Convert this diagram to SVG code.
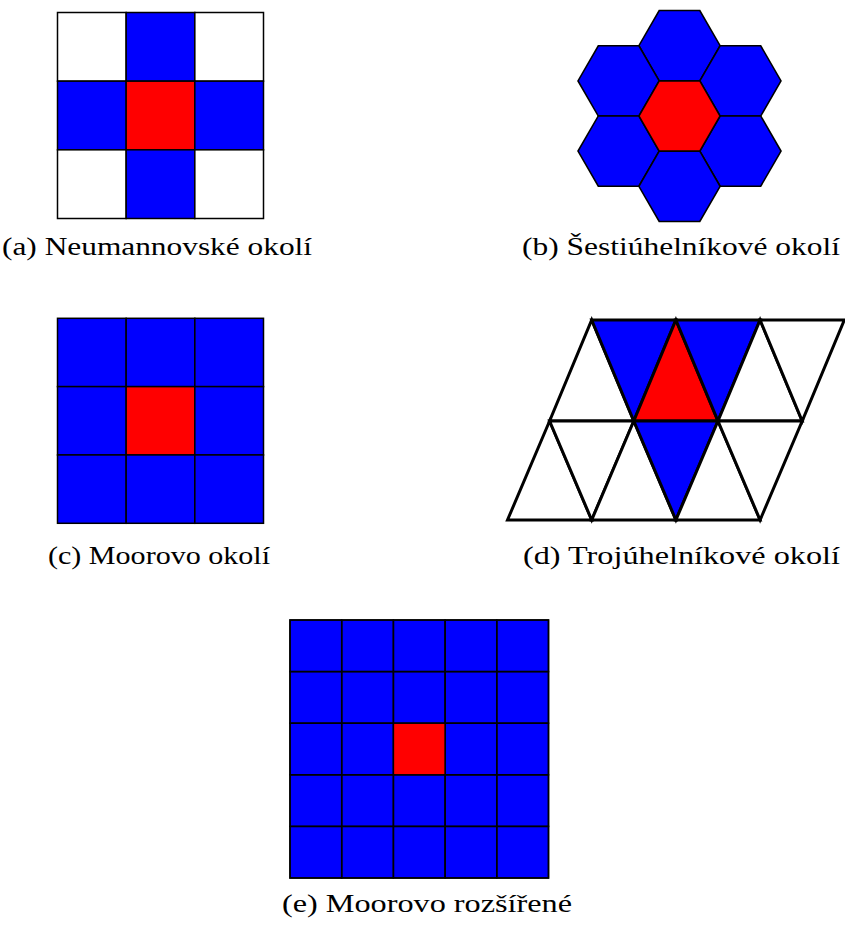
<svg xmlns="http://www.w3.org/2000/svg" width="845" height="927" viewBox="0 0 845 927">
<style>
.b{fill:#0000ff}.r{fill:#ff0000}.w{fill:#ffffff}
.g rect{stroke:#000;stroke-width:1.5}
.hx use{stroke:#000;stroke-width:1.6;stroke-linejoin:miter}
.tr polygon{stroke:#000;stroke-width:3;stroke-linejoin:miter}
.cap{font-family:"Liberation Serif","DejaVu Serif",serif;font-size:25px;fill:#000}
</style>
<defs>
<polygon id="hex" points="40.6,0 20.3,35.16 -20.3,35.16 -40.6,0 -20.3,-35.16 20.3,-35.16"/>
</defs>
<rect width="845" height="927" fill="#fff"/>

<g id="neumann" class="g">
<rect class="w" x="57.5" y="12.5" width="68.67" height="68.67"/>
<rect class="b" x="126.17" y="12.5" width="68.67" height="68.67"/>
<rect class="w" x="194.83" y="12.5" width="68.67" height="68.67"/>
<rect class="b" x="57.5" y="81.17" width="68.67" height="68.67"/>
<rect class="r" x="126.17" y="81.17" width="68.67" height="68.67"/>
<rect class="b" x="194.83" y="81.17" width="68.67" height="68.67"/>
<rect class="w" x="57.5" y="149.83" width="68.67" height="68.67"/>
<rect class="b" x="126.17" y="149.83" width="68.67" height="68.67"/>
<rect class="w" x="194.83" y="149.83" width="68.67" height="68.67"/>
</g>
<text id="cap-a" class="cap" x="2" y="255" textLength="310" lengthAdjust="spacingAndGlyphs">(a) Neumannovské okolí</text>

<g id="hexagon" class="hx">
<use href="#hex" class="b" x="679.5" y="45.7"/>
<use href="#hex" class="b" x="618.6" y="80.9"/>
<use href="#hex" class="b" x="740.4" y="80.9"/>
<use href="#hex" class="b" x="618.6" y="151.1"/>
<use href="#hex" class="b" x="740.4" y="151.1"/>
<use href="#hex" class="b" x="679.5" y="186.3"/>
<use href="#hex" class="r" x="679.5" y="116"/>
</g>
<text id="cap-b" class="cap" x="522" y="255" textLength="318" lengthAdjust="spacingAndGlyphs">(b) Šestiúhelníkové okolí</text>

<g id="moore" class="g">
<rect class="b" x="57.5" y="318.3" width="68.67" height="68.33"/>
<rect class="b" x="126.17" y="318.3" width="68.67" height="68.33"/>
<rect class="b" x="194.83" y="318.3" width="68.67" height="68.33"/>
<rect class="b" x="57.5" y="386.63" width="68.67" height="68.33"/>
<rect class="r" x="126.17" y="386.63" width="68.67" height="68.33"/>
<rect class="b" x="194.83" y="386.63" width="68.67" height="68.33"/>
<rect class="b" x="57.5" y="454.96" width="68.67" height="68.33"/>
<rect class="b" x="126.17" y="454.96" width="68.67" height="68.33"/>
<rect class="b" x="194.83" y="454.96" width="68.67" height="68.33"/>
</g>
<text id="cap-c" class="cap" x="48" y="564" textLength="222" lengthAdjust="spacingAndGlyphs">(c) Moorovo okolí</text>

<g id="triangle" class="tr">
<polygon class="w" points="549.6,421 633.8,421 591.7,320"/>
<polygon class="b" points="591.7,320 675.9,320 633.8,421"/>
<polygon class="r" points="633.8,421 718,421 675.9,320"/>
<polygon class="b" points="675.9,320 760.1,320 718,421"/>
<polygon class="w" points="718,421 802.2,421 760.1,320"/>
<polygon class="w" points="760.1,320 844.3,320 802.2,421"/>
<polygon class="w" points="507.5,520 591.7,520 549.6,421"/>
<polygon class="w" points="549.6,421 633.8,421 591.7,520"/>
<polygon class="w" points="591.7,520 675.9,520 633.8,421"/>
<polygon class="b" points="633.8,421 718,421 675.9,520"/>
<polygon class="w" points="675.9,520 760.1,520 718,421"/>
<polygon class="w" points="718,421 802.2,421 760.1,520"/>
</g>
<text id="cap-d" class="cap" x="523" y="564" textLength="317" lengthAdjust="spacingAndGlyphs">(d) Trojúhelníkové okolí</text>

<g id="moore-ext" class="g">
<rect class="b" x="290" y="620" width="258.5" height="258"/>
<g fill="none">
<rect x="290" y="620" width="51.7" height="51.6"/><rect x="341.7" y="620" width="51.7" height="51.6"/><rect x="393.4" y="620" width="51.7" height="51.6"/><rect x="445.1" y="620" width="51.7" height="51.6"/><rect x="496.8" y="620" width="51.7" height="51.6"/>
<rect x="290" y="671.6" width="51.7" height="51.6"/><rect x="341.7" y="671.6" width="51.7" height="51.6"/><rect x="393.4" y="671.6" width="51.7" height="51.6"/><rect x="445.1" y="671.6" width="51.7" height="51.6"/><rect x="496.8" y="671.6" width="51.7" height="51.6"/>
<rect x="290" y="723.2" width="51.7" height="51.6"/><rect x="341.7" y="723.2" width="51.7" height="51.6"/><rect x="445.1" y="723.2" width="51.7" height="51.6"/><rect x="496.8" y="723.2" width="51.7" height="51.6"/>
<rect x="290" y="774.8" width="51.7" height="51.6"/><rect x="341.7" y="774.8" width="51.7" height="51.6"/><rect x="393.4" y="774.8" width="51.7" height="51.6"/><rect x="445.1" y="774.8" width="51.7" height="51.6"/><rect x="496.8" y="774.8" width="51.7" height="51.6"/>
<rect x="290" y="826.4" width="51.7" height="51.6"/><rect x="341.7" y="826.4" width="51.7" height="51.6"/><rect x="393.4" y="826.4" width="51.7" height="51.6"/><rect x="445.1" y="826.4" width="51.7" height="51.6"/><rect x="496.8" y="826.4" width="51.7" height="51.6"/>
</g>
<rect class="r" x="393.4" y="723.2" width="51.7" height="51.6"/>
</g>
<text id="cap-e" class="cap" x="282" y="912" textLength="290" lengthAdjust="spacingAndGlyphs">(e) Moorovo rozšířené</text>
</svg>
